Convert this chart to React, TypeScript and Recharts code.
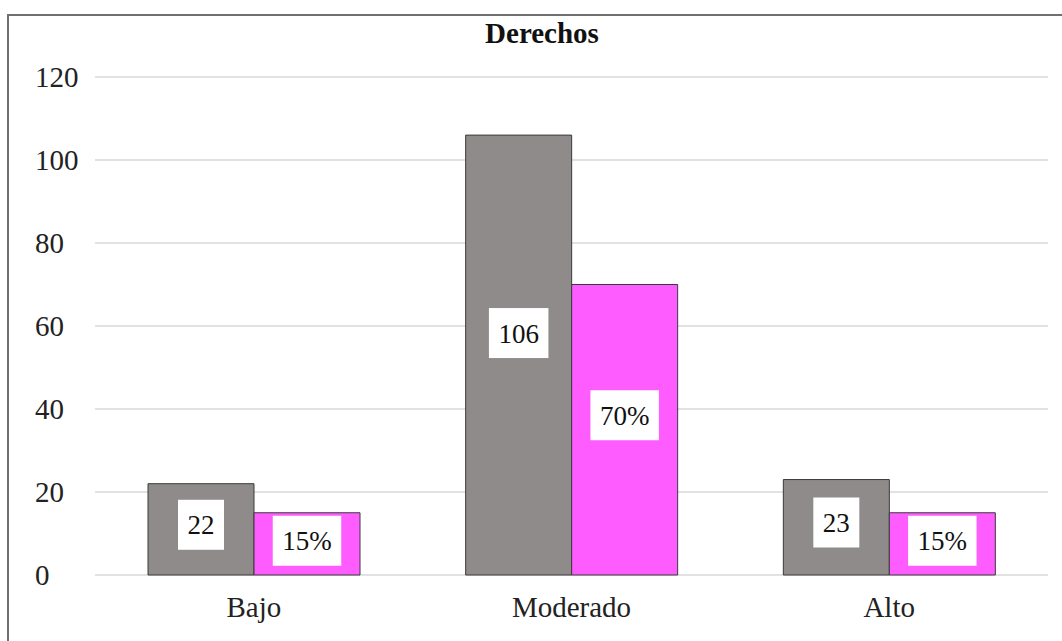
import React from "react";
import { BarChart, Bar, XAxis, YAxis, CartesianGrid, LabelList } from "recharts";

const categories = ["Bajo", "Moderado", "Alto"];
const counts = [22, 106, 23];
const percents = [15, 70, 15];
const yTicks = [0, 20, 40, 60, 80, 100, 120];

const data = categories.map((name, i) => ({
  name,
  count: counts[i],
  percent: percents[i],
}));

const FONT = "'Liberation Serif', 'Times New Roman', serif";

function textWidth(s: string, size: number) {
  let w = 0;
  for (const ch of s) w += ch === "%" ? 0.833 : 0.5;
  return w * size;
}

function BoxLabel(props: any) {
  const { x, y, width, height, value, suffix } = props;
  const text = `${value}${suffix || ""}`;
  const fs = 27;
  const bw = textWidth(text, fs) + 19;
  const bh = 50;
  const cx = x + width / 2;
  const cy = y + height * 0.45;
  return (
    <g>
      <rect x={cx - bw / 2} y={cy - bh / 2} width={bw} height={bh} fill="#ffffff" />
      <text
        x={cx}
        y={cy}
        dy="0.35em"
        textAnchor="middle"
        fontFamily={FONT}
        fontSize={fs}
        fill="#111"
      >
        {text}
      </text>
    </g>
  );
}

function YTick(props: any) {
  const { y, payload } = props;
  return (
    <text x={35} y={y} dy="0.35em" fontFamily={FONT} fontSize={29} fill="#222">
      {payload.value}
    </text>
  );
}

function XTick(props: any) {
  const { x, y, payload } = props;
  return (
    <text x={x} y={y} dy={42} textAnchor="middle" fontFamily={FONT} fontSize={29} fill="#222">
      {payload.value}
    </text>
  );
}

export default function App() {
  return (
    <div
      style={{
        position: "fixed",
        left: 0,
        top: 0,
        width: 1062,
        height: 641,
        overflow: "hidden",
        background: "#fff",
      }}
    >
      <div
        style={{
          position: "absolute",
          left: 7,
          top: 14,
          width: 1100,
          height: 700,
          borderLeft: "2px solid #707070",
          borderTop: "2px solid #707070",
          boxSizing: "border-box",
        }}
      />
      <div style={{ position: "absolute", left: 0, top: 0 }}>
        <BarChart
          width={1062}
          height={641}
          data={data}
          margin={{ top: 77, right: 14, bottom: 0, left: 0 }}
          barGap={0}
        >
          <text x={542} y={43} textAnchor="middle" fontFamily={FONT} fontSize={29} fontWeight="bold" fill="#111">
            Derechos
          </text>
          <CartesianGrid vertical={false} stroke="#d9d9d9" strokeWidth={1.5} />
          <XAxis
            dataKey="name"
            axisLine={false}
            tickLine={false}
            tickSize={0}
            tickMargin={0}
            height={66}
            tick={<XTick />}
          />
          <YAxis
            domain={[0, 120]}
            ticks={yTicks}
            axisLine={false}
            tickLine={false}
            width={95}
            tick={<YTick />}
          />
          <Bar dataKey="count" fill="#908b8b" stroke="#3a3a3a" strokeWidth={1} barSize={106} isAnimationActive={false}>
            <LabelList dataKey="count" content={<BoxLabel />} />
          </Bar>
          <Bar dataKey="percent" fill="#ff5cff" stroke="#3a3a3a" strokeWidth={1} barSize={106} isAnimationActive={false}>
            <LabelList dataKey="percent" content={<BoxLabel suffix="%" />} />
          </Bar>
        </BarChart>
      </div>
    </div>
  );
}
